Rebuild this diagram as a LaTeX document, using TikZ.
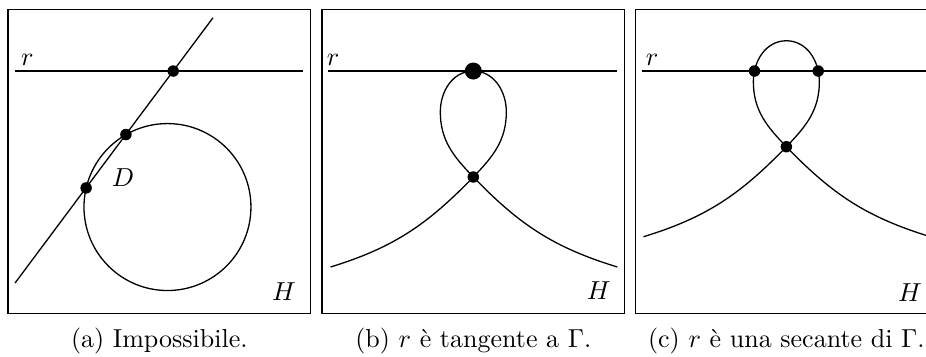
\documentclass[tikz,border=0pt]{standalone}
\usetikzlibrary{intersections}

\begin{document}
\begin{tikzpicture}[
    font=\normalsize,
    frame/.style={draw},
    retta/.style={draw, line width=0.5pt},
    curva/.style={draw, line width=0.5pt},
    dot/.style={circle, fill, inner sep=0pt, minimum size=1.55mm},
    bigdot/.style={circle, fill, inner sep=0pt, minimum size=2.3mm},
    lbl/.style={inner sep=0pt},
    didascalia/.style={anchor=base},
]

%% ── Page: the third panel is cut at the right edge ──────────────────────────
\useasboundingbox (-0.108,-0.581) rectangle (12.405,4.230);
\clip (-0.108,-0.581) rectangle (12.405,4.230);

%% ── (a) Impossibile ─────────────────────────────────────────────────────────
\begin{scope}
  \draw[frame] (0,0) rectangle (4.09,4.095);
  \draw[retta, name path=ra] (0.095,3.27) -- (3.99,3.27);
  \draw[retta, name path=sa] (0.095,0.405) -- (2.77,3.99);
  \draw[curva, name path=ga] (2.155,1.432) circle (1.128);

  \path[name intersections={of=sa and ra, name=pa}];
  \path[name intersections={of=sa and ga, name=qa}];
  \node[dot] (a1) at (pa-1) {};
  \node[dot] (a2) at (qa-1) {};
  \node[dot] (a3) at (qa-2) {};

  \node[lbl] (ra-lbl) at (0.26,3.42) {$r$};
  \node[lbl] (da-lbl) at (1.554,1.824) {$D$};
  \node[lbl] (ha-lbl) at (3.73,0.284) {$H$};
  \node[didascalia] (capa) at (2.045,-0.46) {(a) Impossibile.};
\end{scope}

%% ── (b) r tangente ──────────────────────────────────────────────────────────
\begin{scope}[xshift=4.243cm]
  \draw[frame] (0,0) rectangle (4.09,4.095);
  \draw[retta] (0.081,3.27) -- (3.986,3.27);
  \begin{scope}[shift={(2.045,1.838)}]
    \draw[curva] (-1.93,-1.216) to[out=17, in=226] (0,0)
      to[out=46, in=-90] (0.446,0.88)
      to[out=90, in=0] (0,1.432)
      to[out=180, in=90] (-0.446,0.88)
      to[out=-90, in=134] (0,0)
      to[out=-46, in=163] (1.946,-1.216);
    \node[dot] (b1) at (0,0) {};
    \node[bigdot] (b2) at (0,1.432) {};
  \end{scope}

  \node[lbl] (rb-lbl) at (0.15,3.42) {$r$};
  \node[lbl] (hb-lbl) at (3.74,0.297) {$H$};
  \node[didascalia] (capb) at (2.045,-0.46) {(b) $r$ è tangente a $\Gamma$.};
\end{scope}

%% ── (c) r secante ───────────────────────────────────────────────────────────
\begin{scope}[xshift=8.473cm]
  \draw[frame] (0,0) rectangle (4.09,4.095);
  \draw[retta, name path=rc] (0.09,3.27) -- (3.99,3.27);
  \begin{scope}[shift={(2.045,2.247)}]
    \draw[curva, name path=gc] (-1.93,-1.216) to[out=17, in=226] (0,0)
      to[out=46, in=-90] (0.446,0.88)
      to[out=90, in=0] (0,1.432)
      to[out=180, in=90] (-0.446,0.88)
      to[out=-90, in=134] (0,0)
      to[out=-46, in=163] (1.946,-1.216);
    \node[dot] (c1) at (0,0) {};
    \path[name intersections={of=rc and gc, name=pc}];
    \node[dot] (c2) at (pc-1) {};
    \node[dot] (c3) at (pc-2) {};
  \end{scope}

  \node[lbl] (rc-lbl) at (0.23,3.42) {$r$};
  \node[lbl] (hc-lbl) at (3.716,0.27) {$H$};
  \node[didascalia] (capc) at (2.045,-0.46) {(c) $r$ è una secante di $\Gamma$.};
\end{scope}

\end{tikzpicture}
\end{document}
